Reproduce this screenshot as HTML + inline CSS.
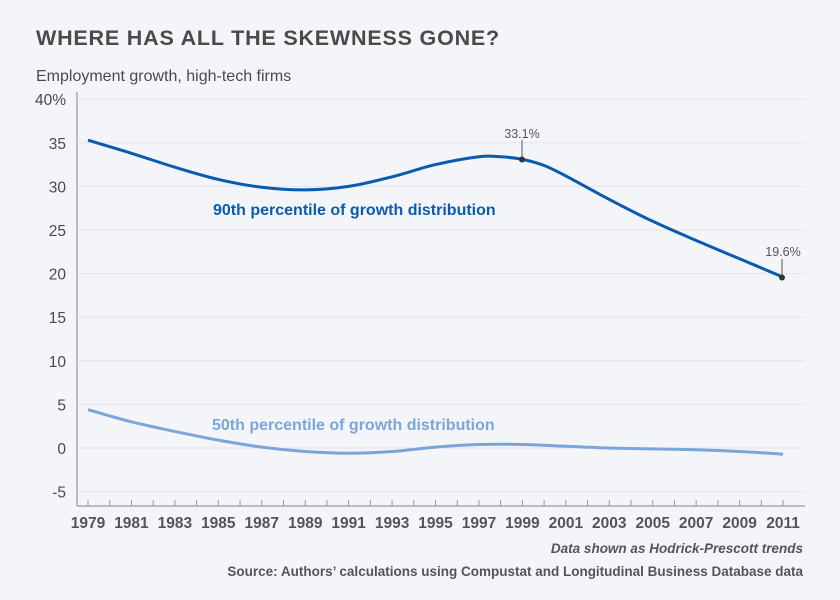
<!DOCTYPE html>
<html><head><meta charset="utf-8"><style>
body{margin:0;background:#f3f5f9;}
svg{display:block;font-family:"Liberation Sans",sans-serif;}
</style></head><body>
<svg id="s" width="840" height="600" viewBox="0 0 840 600">
<rect width="840" height="600" fill="#f3f5f9"/>
<text x="36" y="45" font-size="21.5" font-weight="bold" fill="#4a4a4a" letter-spacing="0.8">WHERE HAS ALL THE SKEWNESS GONE?</text>
<text x="36" y="81" font-size="16" fill="#4a4a4a">Employment growth, high-tech firms</text>
<g id="grid"></g>
<line x1="77" y1="92" x2="77" y2="506" stroke="#aaa" stroke-width="1.5"/>
<line x1="77" y1="506" x2="805" y2="506" stroke="#aaa" stroke-width="1.5"/>
<g id="ticks"></g>
<path id="p90" fill="none" stroke="#0a5bb0" stroke-width="3"/>
<path id="p50" fill="none" stroke="#7aa6dc" stroke-width="3"/>
<text x="213" y="215" font-size="16" font-weight="bold" fill="#0a5bb0">90th percentile of growth distribution</text>
<text x="212" y="430" font-size="16" font-weight="bold" fill="#7aa6dc">50th percentile of growth distribution</text>
<line x1="522" y1="140" x2="522" y2="159" stroke="#555" stroke-width="1"/>
<circle cx="522" cy="159.5" r="3" fill="#333"/>
<text x="522" y="138" font-size="12.5" fill="#555" text-anchor="middle">33.1%</text>
<line x1="782" y1="259" x2="782" y2="277" stroke="#555" stroke-width="1"/>
<circle cx="782" cy="277.5" r="3" fill="#333"/>
<text x="783" y="256" font-size="12.5" fill="#555" text-anchor="middle">19.6%</text>
<text x="803" y="553" font-size="13.5" font-style="italic" font-weight="bold" fill="#555" text-anchor="end">Data shown as Hodrick-Prescott trends</text>
<text x="803" y="576" font-size="13.5" font-weight="bold" fill="#555" text-anchor="end">Source: Authors’ calculations using Compustat and Longitudinal Business Database data</text>
</svg>
<script>
var ns="http://www.w3.org/2000/svg";
function Y(v){return 448-8.72*v;}function X(y){return 88+21.72*(y-1979);}
function el(p,t,a,txt){var e=document.createElementNS(ns,t);for(var k in a)e.setAttribute(k,a[k]);if(txt)e.textContent=txt;document.getElementById(p).appendChild(e);}
for(var v=40;v>=-5;v-=5){var y=Y(v);el("grid","line",{x1:77,x2:805,y1:y,y2:y,stroke:"#e2e5ea","stroke-width":1});
el("grid","text",{x:66,y:y+6,"font-size":15.5,fill:"#4a4a4a","text-anchor":"end"},v==40?"40%":String(v));}
for(var yr=1979;yr<=2011;yr++){var x=X(yr);el("ticks","line",{x1:x,x2:x,y1:500,y2:506,stroke:"#999","stroke-width":1});
if((yr-1979)%2==0)el("ticks","text",{x:x,y:528,"font-size":15.5,"font-weight":"bold",fill:"#555","text-anchor":"middle"},String(yr));}
function path(d){var pts=d.map(function(p){return[X(p[0]),Y(p[1])]});var s="M"+pts[0];
for(var i=0;i<pts.length-1;i++){var p0=pts[Math.max(0,i-1)],p1=pts[i],p2=pts[i+1],p3=pts[Math.min(pts.length-1,i+2)];
var c1=[p1[0]+(p2[0]-p0[0])/6,p1[1]+(p2[1]-p0[1])/6],c2=[p2[0]-(p3[0]-p1[0])/6,p2[1]-(p3[1]-p1[1])/6];
s+="C"+c1+" "+c2+" "+p2;}return s;}
document.getElementById("p90").setAttribute("d",path([[1979,35.3],[1981,33.8],[1983,32.2],[1985,30.8],[1987,29.9],[1989,29.6],[1991,30.0],[1993,31.1],[1995,32.5],[1997,33.4],[1998,33.4],[1999,33.1],[2000,32.4],[2001,31.2],[2003,28.5],[2005,26.0],[2007,23.8],[2009,21.7],[2011,19.6]]));
document.getElementById("p50").setAttribute("d",path([[1979,4.4],[1981,3.0],[1983,1.9],[1985,0.9],[1987,0.1],[1989,-0.4],[1991,-0.6],[1993,-0.4],[1995,0.1],[1997,0.4],[1999,0.4],[2001,0.2],[2003,0.0],[2005,-0.1],[2007,-0.2],[2009,-0.4],[2011,-0.7]]));
</script>
</body></html>
